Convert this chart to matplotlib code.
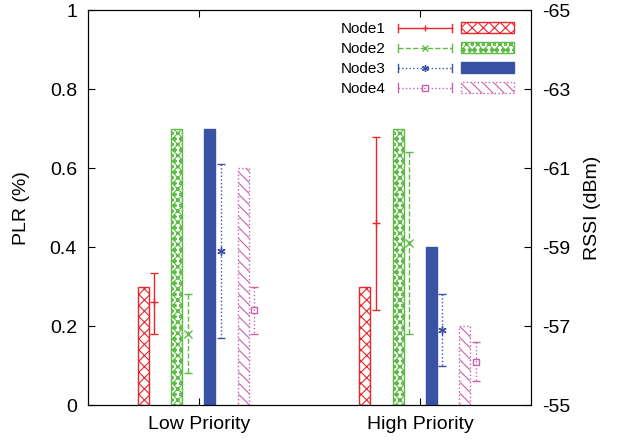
import matplotlib.pyplot as plt
import numpy as np
from matplotlib.legend_handler import HandlerBase
from matplotlib.lines import Line2D
from matplotlib.patches import Rectangle

plt.rcParams['font.family'] = ['Liberation Sans', 'DejaVu Sans']
plt.rcParams['hatch.linewidth'] = 0.8
plt.rcParams['axes.unicode_minus'] = False

# data
categories = ['Low Priority', 'High Priority']
nodes = ['Node1', 'Node2', 'Node3', 'Node4']
plr = {
    'Node1': [0.3, 0.3],
    'Node2': [0.7, 0.7],
    'Node3': [0.7, 0.4],
    'Node4': [0.6, 0.2],
}
rssi_mean = {
    'Node1': [-57.6, -59.6],
    'Node2': [-56.8, -59.1],
    'Node3': [-58.9, -56.9],
    'Node4': [-57.4, -56.1],
}
rssi_min = {
    'Node1': [-58.35, -61.8],
    'Node2': [-57.8, -61.4],
    'Node3': [-61.1, -57.8],
    'Node4': [-58.0, -56.6],
}
rssi_max = {
    'Node1': [-56.8, -57.4],
    'Node2': [-55.8, -56.8],
    'Node3': [-56.7, -56.0],
    'Node4': [-56.8, -55.6],
}

# styles
colors = {'Node1': '#e8262b', 'Node2': '#5dbb46', 'Node3': '#3a52a3', 'Node4': '#c860b0'}
hatches = {'Node1': 'xxx', 'Node2': 'xxxooo', 'Node3': None, 'Node4': '\\\\\\'}
edge_ls = {'Node1': '-', 'Node2': '-', 'Node3': '-', 'Node4': ':'}
err_ls = {'Node1': '-', 'Node2': '--', 'Node3': ':', 'Node4': ':'}
markers = {'Node1': '+', 'Node2': 'x', 'Node3': (6, 2, 0), 'Node4': 's'}
bar_off = [-0.25, -0.1, 0.05, 0.2]
err_off = 0.05
bar_w = 0.05

fig = plt.figure(figsize=(6.34, 4.42), dpi=100)
ax = fig.add_axes([0.1388, 0.0837, 0.6987, 0.8933])
ax2 = ax.twinx()

x = np.arange(len(categories))
for i, n in enumerate(nodes):
    c = colors[n]
    if hatches[n] is None:
        ax.bar(x + bar_off[i], plr[n], bar_w, color=c, edgecolor=c, linewidth=1, zorder=2)
    else:
        ax.bar(x + bar_off[i], plr[n], bar_w, facecolor='white', edgecolor=c,
               hatch=hatches[n], linewidth=1, linestyle=edge_ls[n], zorder=2)
    mean = np.array(rssi_mean[n])
    lo = np.array(rssi_min[n])
    hi = np.array(rssi_max[n])
    eb = ax2.errorbar(x + bar_off[i] + err_off, mean, yerr=[mean - lo, hi - mean],
                      fmt='none', ecolor=c, elinewidth=1, capsize=3, capthick=1)
    eb[2][0].set_linestyle(err_ls[n])
    ax2.plot(x + bar_off[i] + err_off, mean, linestyle='none', marker=markers[n],
             color=c, markersize=6 if n != 'Node4' else 5,
             markerfacecolor='none' if n == 'Node4' else c, markeredgewidth=1)

ax.set_xlim(-0.5, 1.5)
ax.set_ylim(0, 1)
ax2.set_ylim(-55, -65)
ax.set_xticks(x)
ax.set_xticklabels(categories, fontsize=14)
ax.set_yticks(np.arange(0, 1.01, 0.2))
ax.set_yticklabels(['0', '0.2', '0.4', '0.6', '0.8', '1'])
ax2.set_yticks(np.arange(-55, -65.1, -2))
ax.tick_params(axis='both', direction='in', length=5, labelsize=14, top=True, pad=8)
ax.tick_params(axis='y', right=False)
ax2.tick_params(axis='y', direction='in', length=5, labelsize=14, pad=8)
ax.set_ylabel('PLR (%)', fontsize=14, labelpad=14)
ax2.set_ylabel('RSSI (dBm)', fontsize=14, labelpad=10)


class NodeHandler(HandlerBase):
    def create_artists(self, legend, orig_handle, xdescent, ydescent, width, height, fontsize, trans):
        n = orig_handle[0]
        c = colors[n]
        yc = height / 2 - ydescent
        x0 = -xdescent
        x1 = x0 + 0.47 * width
        xm = (x0 + x1) / 2
        cap = 0.3 * height
        arts = [
            Line2D([x0, x1], [yc, yc], color=c, lw=1, linestyle=err_ls[n]),
            Line2D([x0, x0], [yc - cap, yc + cap], color=c, lw=1),
            Line2D([x1, x1], [yc - cap, yc + cap], color=c, lw=1),
            Line2D([xm], [yc], marker=markers[n], color=c, markersize=5,
                   markerfacecolor='none' if n == 'Node4' else c, linestyle='none'),
        ]
        px = x0 + 0.55 * width
        if hatches[n] is None:
            rect = Rectangle((px, yc - 0.4 * height), 0.45 * width, 0.8 * height,
                             facecolor=c, edgecolor=c, lw=1)
        else:
            rect = Rectangle((px, yc - 0.4 * height), 0.45 * width, 0.8 * height,
                             facecolor='white', edgecolor=c, hatch=hatches[n], lw=1,
                             linestyle=edge_ls[n])
        arts.append(rect)
        for a in arts:
            a.set_transform(trans)
        return arts


handles = [(n,) for n in nodes]
ax2.legend(handles, nodes, handler_map={tuple: NodeHandler()}, loc='upper right',
           bbox_to_anchor=(0.985, 1.0), frameon=False, markerfirst=False,
           handlelength=7.6, handleheight=1.0, labelspacing=0.32, fontsize=11,
           handletextpad=0.8, borderpad=0.2)

fig.savefig('out.png', dpi=100)
